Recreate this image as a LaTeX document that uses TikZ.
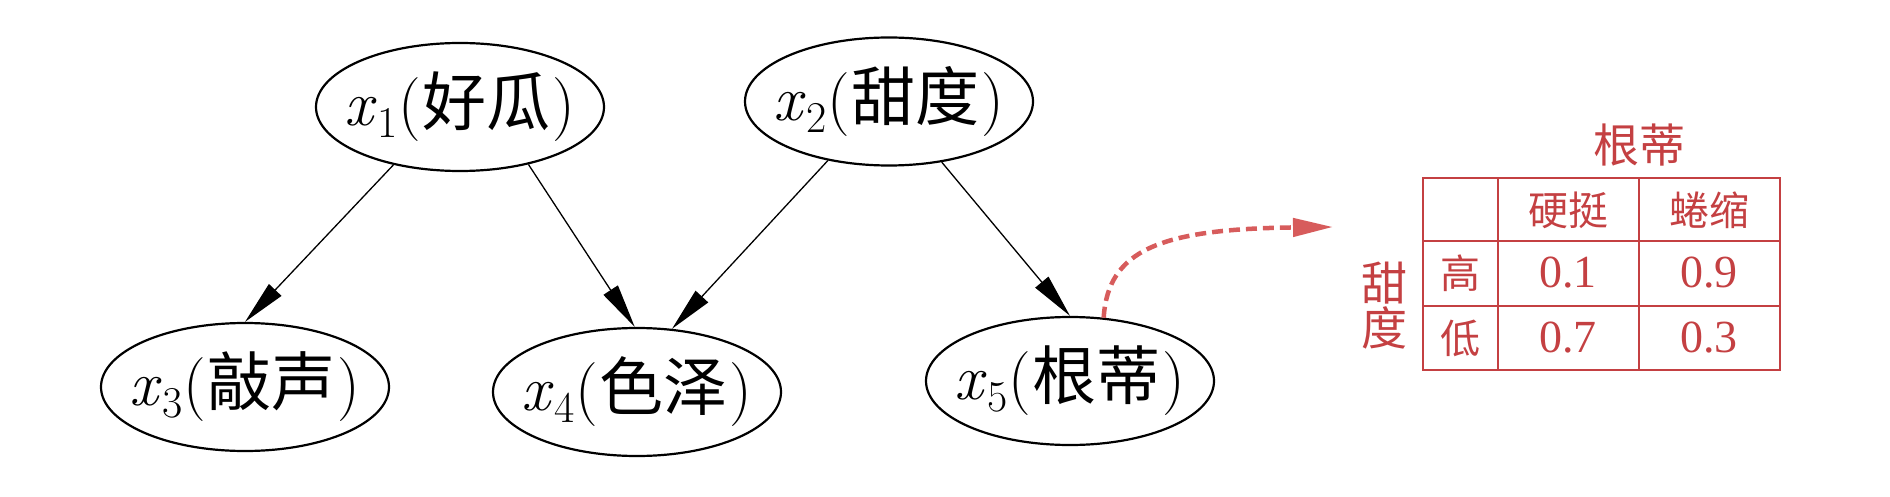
\documentclass[tikz,border=0pt]{standalone}
\usepackage{fontspec}
\newfontfamily\cjk{Noto Sans CJK SC}
\newfontfamily\numfont{Liberation Serif}
\usetikzlibrary{arrows.meta,shapes.geometric}
\definecolor{tabred}{RGB}{196,64,66}
\definecolor{arrred}{RGB}{215,92,92}
\newcommand\xvar[1]{\textit{x}\kern1pt\raisebox{-12pt}{\fontsize{44}{48}\selectfont #1}}
\newcommand\vlabel[2]{\xvar{#1}({\cjk\kern2pt #2\kern2pt})}
\begin{document}
\begin{tikzpicture}[x=1pt,y=-1pt,
  var/.style={ellipse,draw,line width=2.2pt,minimum width=288pt,minimum height=128pt,inner sep=0pt,font=\fontsize{64}{70}\selectfont},
  edge/.style={line width=1.3pt,-{Triangle[length=44pt,width=17pt]}},
  tabline/.style={draw=tabred,line width=2pt},
  celltxt/.style={text=tabred,inner sep=0pt,font=\fontsize{40}{44}\selectfont\cjk},
  cellnum/.style={text=tabred,inner sep=0pt,font=\fontsize{46}{50}\selectfont\numfont},
  headtxt/.style={text=tabred,inner sep=0pt,font=\fontsize{46}{50}\selectfont\cjk},
  dasharrow/.style={draw=arrred,line width=4.5pt,dash pattern=on 11pt off 6pt,-{Triangle[length=40pt,width=18pt,fill=arrred]}}
]
\useasboundingbox (0,0) rectangle (1890,497);
% network nodes
\node[var] (x1) at (460,107) {\makebox[0pt]{\vlabel{1}{好瓜}}};
\node[var] (x2) at (889,101.5) {\makebox[0pt]{\vlabel{2}{甜度}}};
\node[var] (x3) at (245,387) {\makebox[0pt]{\vlabel{3}{敲声}}};
\node[var] (x4) at (637,392) {\makebox[0pt]{\vlabel{4}{色泽}}};
\node[var] (x5) at (1070,381) {\makebox[0pt]{\vlabel{5}{根蒂}}};
% edges
\draw[edge] (x1.221) -- (x3.north);
\draw[edge] (x1.320) -- (x4.92);
\draw[edge] (x2.224) -- (x4.61);
\draw[edge] (x2.311) -- (x5.north);
% dashed pointer to the table
\coordinate (tabarrow) at (1333,227);
\draw[dasharrow] (x5.62) .. controls (1108,250) and (1160,229) .. (tabarrow);
% table
\draw[tabline] (1423,178) rectangle (1780,370);
\draw[tabline] (1498,178) -- (1498,370);
\draw[tabline] (1639,178) -- (1639,370);
\draw[tabline] (1423,241) -- (1780,241);
\draw[tabline] (1423,306) -- (1780,306);
\node[headtxt] (thead) at (1639,145) {根蒂};
\node[headtxt] (tsweet1) at (1384,283) {甜};
\node[headtxt] (tsweet2) at (1384,328) {度};
\node[celltxt] (chard) at (1568,210) {硬挺};
\node[celltxt] (ccurl) at (1709,210) {蜷缩};
\node[celltxt] (chigh) at (1460,273) {高};
\node[celltxt] (clow) at (1460,338) {低};
\node[cellnum] (n11) at (1568,273) {0.1};
\node[cellnum] (n12) at (1709,273) {0.9};
\node[cellnum] (n21) at (1568,338) {0.7};
\node[cellnum] (n22) at (1709,338) {0.3};
\end{tikzpicture}
\end{document}
